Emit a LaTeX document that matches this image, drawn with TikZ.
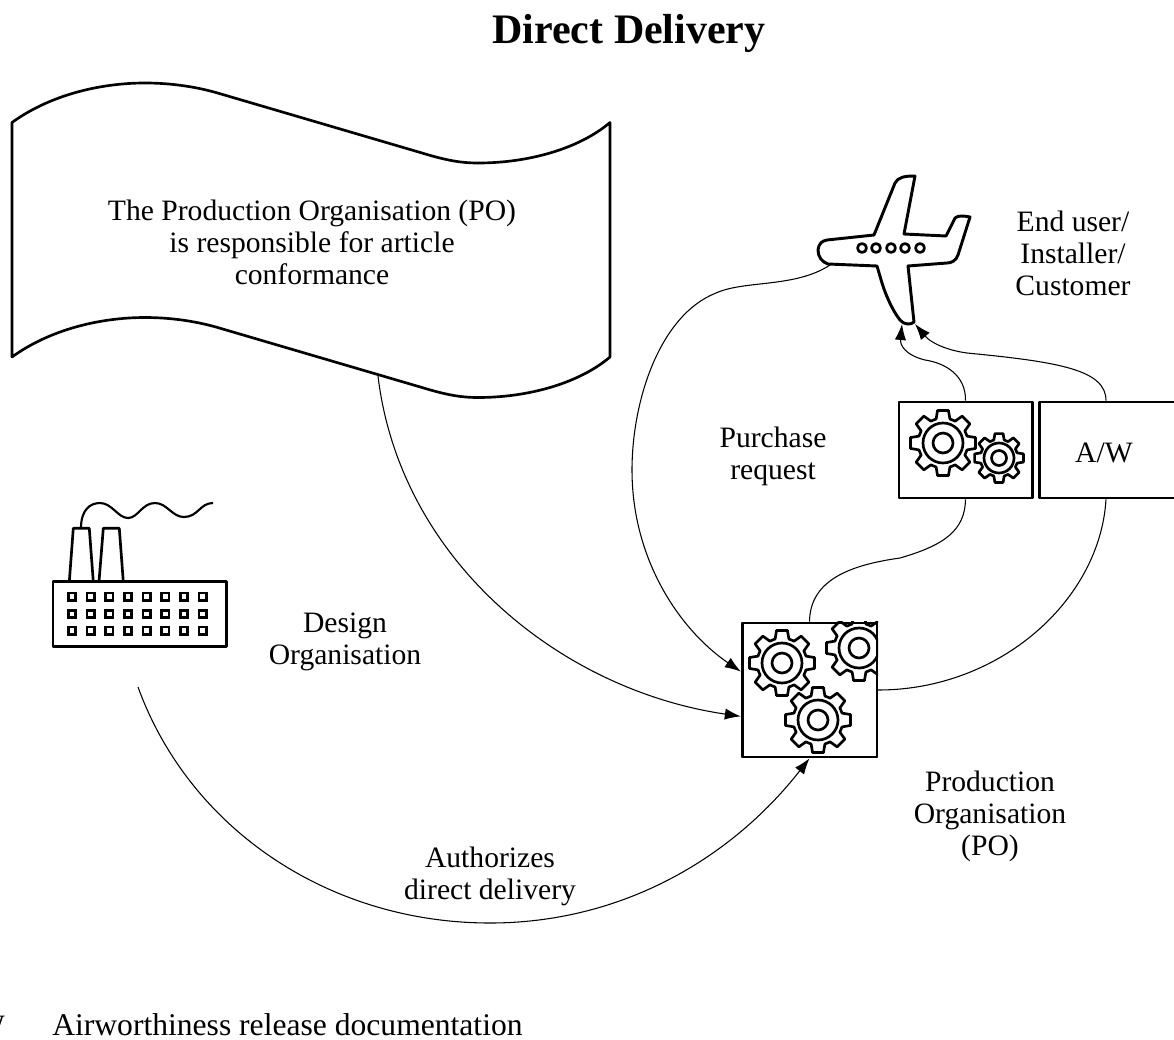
\documentclass[tikz,border=0pt]{standalone}
\usepackage{fontspec}
\setmainfont{Liberation Serif}
\usetikzlibrary{arrows.meta}

\tikzset{
  thickline/.style={line width=2pt, line join=round},
  thinline/.style={line width=0.8pt},
  flow/.style={thinline, -{Latex[length=12pt, width=8.5pt]}},
  lbl/.style={align=center, inner sep=0pt, font=\fontsize{22.2}{24}\selectfont},
  boxnode/.style={draw, thickline, inner sep=0pt, minimum width=100pt, minimum height=72pt},
  gear/.pic={
    \draw[thickline, fill=white] (-16:25) \foreach \a in {0,45,...,315} {
      -- (\a-16:25) -- (\a-9.5:33) -- (\a+9.5:33) -- (\a+16:25)} -- cycle;
    \draw[thickline] (0,0) circle (20) (0,0) circle (10);
  }
}

\begin{document}
\begin{tikzpicture}[x=0.75pt, y=-0.75pt]
\useasboundingbox (0,0) rectangle (1174,1039);

% boxes
\node[boxnode, minimum width=101pt, minimum height=100.5pt] (pobox) at (809.5,690) {};
\node[boxnode] (gearbox) at (965.5,450) {};
\node[boxnode, minimum width=112pt] (awbox) at (1114,450) {};

% gears
\begin{scope}
\clip (pobox.south west) rectangle (pobox.north east);
\pic at (782,663) {gear};
\pic at (859,648) {gear};
\pic at (818,720) {gear};
\end{scope}
\node[boxnode, minimum width=101pt, minimum height=100.5pt] at (pobox) {};
\pic at (943,443) {gear};
\pic[scale=0.75] at (999,458) {gear};

% flag
\draw[thickline] (12,122.5) .. controls (50,95) and (100,83) .. (145,83)
  .. controls (172,83) and (198,87) .. (221,94) -- (422,153)
  .. controls (445,160) and (460,163) .. (478,163)
  .. controls (530,163) and (580,148) .. (610,122.5) -- (610,357)
  .. controls (580,382.5) and (530,397.5) .. (478,397.5)
  .. controls (460,397.5) and (445,394.5) .. (422,387.5) -- (221,328.5)
  .. controls (198,321.5) and (172,317.5) .. (145,317.5)
  .. controls (100,317.5) and (50,329.5) .. (12,357) -- cycle;
\coordinate (flagfoot) at (378,376);

% plane
\draw[thickline, line width=2.2pt] (818,250) .. controls (819,243) and (822,241) .. (827,240) -- (874,235)
  -- (895,183) .. controls (898,177) and (905,176) .. (915,176) -- (904,234) -- (946,236)
  -- (955,218) .. controls (958,215) and (965,216) .. (970,217) -- (958,255)
  .. controls (956,261) and (951,263) .. (947,263) -- (908,266) -- (914,322)
  .. controls (911,325) and (904,325) .. (900,320) .. controls (892,310) and (885,293) .. (882,283)
  -- (877,266) -- (828,264) .. controls (822,262) and (818,257) .. (818,250) -- cycle;
\foreach \x in {862,876,891,905,920}
  \draw[thickline] (\x,248) circle (4.5);
\coordinate (planenose) at (830,265);
\coordinate (planetail) at (902,324);
\coordinate (planetailb) at (915,324);

% factory
\node[draw, thickline, inner sep=0pt, minimum width=130pt, minimum height=49pt] (factory) at (139.5,614) {};
\draw[thickline] (69.3,581.7) -- (73.3,528.3) -- (89.3,528.3) -- (93.3,581.7);
\draw[thickline] (99,581.7) -- (103.3,528.3) -- (119.3,528.3) -- (123.3,581.7);
\draw[line width=1.6pt] (81,528) .. controls (81,510) and (90,503) .. (100,503)
  .. controls (112,503) and (118,518) .. (128,518) .. controls (138,518) and (142,503) .. (155,503)
  .. controls (167,503) and (172,517) .. (184,517) .. controls (198,517) and (200,503) .. (213,503);
\foreach \x in {72,90.7,109.3,128,146.7,165.3,184,202.7}
  \foreach \y in {596.7,614,630.7}
    \draw[line width=1.9pt] (\x-3.6,\y-3.6) rectangle (\x+3.6,\y+3.6);
\coordinate (factoryfoot) at (138,687);

% connectors
\draw[flow] (flagfoot) .. controls (400,560) and (560,690) .. (pobox.201);
\draw[flow] (factoryfoot) .. controls (190,830) and (330,923) .. (490,923)
  .. controls (620,923) and (730,860) .. (pobox.south);
\draw[flow] (planenose) .. controls (795,288) and (745,280) .. (716,293)
  .. controls (660,315) and (632,400) .. (632,470)
  .. controls (632,560) and (680,630) .. (pobox.165);
\draw[thinline] (gearbox.south) .. controls (965,530) and (945,545) .. (900,558)
  .. controls (850,565) and (810,580) .. (pobox.north);
\draw[thinline] ([xshift=-6pt]awbox.south) .. controls (1100,600) and (1000,690) .. (pobox.east);
\draw[flow] (gearbox.north) .. controls (966,375) and (945,363) .. (925,360)
  .. controls (905,355) and (900,345) .. (planetail);
\draw[flow] ([xshift=-6pt]awbox.north) .. controls (1106,370) and (1060,362) .. (967,353)
  .. controls (945,350) and (930,342) .. (planetailb);

% labels
\node[lbl, font=\fontsize{31.5}{34}\selectfont\bfseries] (title) at (629,33) {Direct Delivery};
\node[lbl] (awlabel) at (1104,453) {A/W};
\node[lbl] (respons) at (312,242) {The Production Organisation (PO)\\is responsible for article\\conformance};
\node[lbl] (enduser) at (1073,253) {End user/\\Installer/\\Customer};
\node[lbl] (purchase) at (773,456) {Purchase\\request};
\node[lbl] (design) at (345,642) {Design\\Organisation};
\node[lbl] (prodorg) at (990,816) {Production\\Organisation\\(PO)};
\node[lbl] (authorizes) at (490,876) {Authorizes\\direct delivery};
\node[lbl, anchor=base east] (abbrev) at (5,1035) {A/W};
\node[lbl, anchor=base west, font=\fontsize{23.7}{24}\selectfont] (abbrevtext) at (52,1035) {Airworthiness release documentation};
\end{tikzpicture}
\end{document}
